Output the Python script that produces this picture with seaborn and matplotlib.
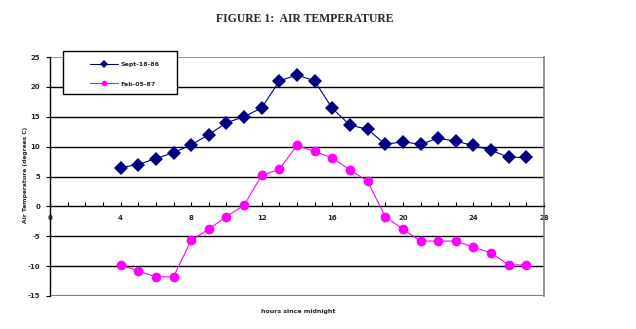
import numpy as np
import pandas as pd
import matplotlib
matplotlib.use("Agg")
import matplotlib.pyplot as plt
import seaborn as sns
from matplotlib.ticker import MultipleLocator
from matplotlib.patches import Rectangle

hours = [4, 5, 6, 7, 8, 9, 10, 11, 12, 13, 14, 15, 16, 17, 18, 19, 20, 21, 22, 23, 24, 25, 26, 27]
sept_18_86 = [6.5, 7.0, 8.0, 9.0, 10.3, 12.0, 14.0, 15.0, 16.5, 21.0, 22.0, 21.0,
              16.4, 13.6, 12.9, 10.4, 10.8, 10.4, 11.4, 10.9, 10.2, 9.4, 8.2, 8.2]
feb_05_87 = [-9.8, -10.8, -11.8, -11.8, -5.7, -3.8, -1.7, 0.2, 5.2, 6.2, 10.2, 9.2,
             8.1, 6.1, 4.2, -1.7, -3.8, -5.8, -5.8, -5.8, -6.8, -7.8, -9.8, -9.8]
series_names = ["Sept-18-86", "Feb-05-87"]
x_ticks = [0, 4, 8, 12, 16, 20, 24, 28]
y_ticks = [-15, -10, -5, 0, 5, 10, 15, 20, 25]

sns.set_style("white")
plt.rcParams['font.family'] = ['DejaVu Sans']

df = pd.DataFrame({
    "hour": hours * 2,
    "temp": sept_18_86 + feb_05_87,
    "series": [series_names[0]] * len(hours) + [series_names[1]] * len(hours),
})

fig = plt.figure(figsize=(6.36, 3.29), dpi=100)
ax = fig.add_axes([50 / 636, 1 - 296 / 329, 494 / 636, 239 / 329])

sns.lineplot(data=df, x="hour", y="temp", hue="series", style="series",
             markers={"Sept-18-86": "D", "Feb-05-87": "o"}, dashes=False,
             palette={"Sept-18-86": "#000080", "Feb-05-87": "#FF00FF"},
             markersize=7, markeredgewidth=0, linewidth=0.8, ax=ax, legend=True, zorder=3)

ax.set_xlim(0, 28)
ax.set_ylim(-15, 25)

# gridlines
for y in [-10, -5, 5, 10, 15, 20]:
    ax.axhline(y, color="black", lw=1.0, zorder=1)
ax.axhline(25, color="#808080", lw=1.2, zorder=1)
ax.axhline(-15, color="#808080", lw=1.5, zorder=1)

ax.spines["top"].set_visible(False)
ax.spines["right"].set_color("#808080")
ax.spines["right"].set_linewidth(1.2)
ax.spines["left"].set_color("black")
ax.spines["left"].set_linewidth(1.0)
ax.spines["bottom"].set_position(("data", 0))
ax.spines["bottom"].set_color("black")
ax.spines["bottom"].set_linewidth(1.0)

ax.xaxis.set_major_locator(plt.FixedLocator(x_ticks))
ax.xaxis.set_minor_locator(MultipleLocator(1))
ax.set_xticklabels([str(t) for t in x_ticks])
ax.tick_params(axis="x", which="both", direction="in", length=3, width=0.8,
               color="black", labelsize=5, pad=6, bottom=True)
ax.set_yticks(y_ticks)
ax.set_yticklabels([str(t) for t in y_ticks])
ax.tick_params(axis="y", which="major", direction="out", length=3, width=0.8,
               color="black", labelsize=5, pad=4, left=True)
for lab in ax.get_xticklabels() + ax.get_yticklabels():
    lab.set_fontweight("bold")

ax.set_xlabel("")
ax.set_ylabel("")
fig.text(26 / 636, 1 - 175 / 329, "Air Temperature (degrees C)", rotation=90,
         ha="center", va="center", fontsize=4.3, fontweight="bold")
fig.text(298 / 636, 1 - 311 / 329, "hours since midnight", ha="center", va="center",
         fontsize=4.5, fontweight="bold")
fig.text(305 / 636, 1 - 19 / 329, "FIGURE 1:  AIR TEMPERATURE", ha="center", va="center",
         fontsize=8.5, fontweight="bold", family=["Liberation Serif", "DejaVu Serif"])

# legend box
box = Rectangle((13 / 494, (296 - 94) / 239), 114 / 494, 43 / 239, transform=ax.transAxes,
                facecolor="white", edgecolor="black", lw=1.0, clip_on=False, zorder=4)
ax.add_patch(box)
leg = ax.legend(loc="upper left", bbox_to_anchor=(40 / 494, (296 - 62) / 239), frameon=False,
                borderpad=0, labelspacing=2.2, handlelength=4.5, handletextpad=0.4,
                borderaxespad=0, prop={"weight": "bold", "size": 4.5})
for h in leg.legend_handles:
    h.set_markersize(4)
leg.set_zorder(5)

fig.savefig("out.png", dpi=100)
